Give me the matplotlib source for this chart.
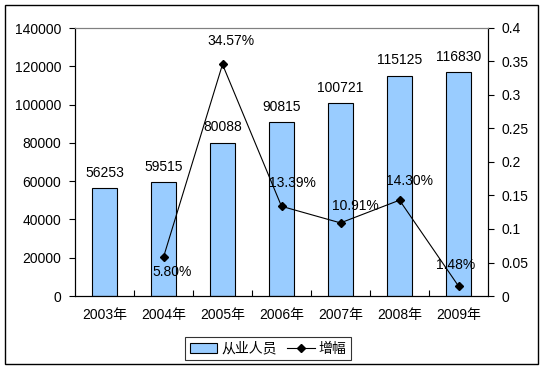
import matplotlib.pyplot as plt
from matplotlib.patches import Rectangle
from matplotlib.ticker import FormatStrFormatter

plt.rcParams['font.family'] = ['Liberation Sans', 'Noto Sans CJK SC']
plt.rcParams['font.size'] = 10

years = ['2003年', '2004年', '2005年', '2006年', '2007年', '2008年', '2009年']
workers = [56253, 59515, 80088, 90815, 100721, 115125, 116830]
growth_idx = [1, 2, 3, 4, 5, 6]
growth = [0.0580, 0.3457, 0.1339, 0.1091, 0.1430, 0.0148]
growth_labels = ['5.80%', '34.57%', '13.39%', '10.91%', '14.30%', '1.48%']
# label offsets in points (dx, dy)
growth_offsets = [(6, -11), (6, 17), (8, 17), (11, 12), (7, 14), (-2, 15)]

fig = plt.figure(figsize=(5.45, 3.7), dpi=100)
ax = fig.add_axes([75 / 545, 1 - 296 / 370, 413 / 545, 268 / 370])

x = list(range(len(years)))
bars = ax.bar(x, workers, width=0.42, color='#99CCFF', edgecolor='black',
              linewidth=0.8, label='从业人员', zorder=2)
for xi, v in zip(x, workers):
    ax.annotate(str(v), (xi, v), xytext=(0, 11), textcoords='offset points',
                ha='center', va='center')

ax.set_xlim(-0.5, len(years) - 0.5)
ax.set_ylim(0, 140000)
ax.set_yticks(range(0, 140001, 20000))
ax.set_xticks(x)
ax.set_xticklabels(years)
ax.set_xticks([i + 0.5 for i in x[:-1]], minor=True)
ax.tick_params(axis='x', which='major', length=0, pad=9)
ax.tick_params(axis='x', which='minor', direction='in', length=4, width=0.8)
ax.tick_params(axis='y', direction='out', length=4, width=0.8, pad=6)

ax2 = ax.twinx()
line, = ax2.plot(growth_idx, growth, color='black', lw=0.8, marker='D',
                 markersize=4, label='增幅', zorder=3)
for xi, v, t, (dx, dy) in zip(growth_idx, growth, growth_labels, growth_offsets):
    ax2.annotate(t, (xi, v), xytext=(dx, dy), textcoords='offset points',
                 ha='center', va='center')
ax2.set_ylim(0, 0.4)
ax2.set_yticks([i * 0.05 for i in range(9)])
ax2.yaxis.set_major_formatter(FormatStrFormatter('%g'))
ax2.tick_params(axis='y', direction='out', length=4, width=0.8, pad=6)

for a in (ax, ax2):
    a.spines['top'].set_color('#808080')
    for s in ('left', 'right', 'bottom'):
        a.spines[s].set_color('black')
        a.spines[s].set_linewidth(0.8)

fig.legend(handles=[bars, line], loc='center', ncol=2,
           bbox_to_anchor=(268 / 545, 1 - 348.5 / 370),
           frameon=True, fancybox=False, edgecolor='black',
           handlelength=2.0, handletextpad=0.3, columnspacing=0.7,
           borderpad=0.3).get_frame().set_linewidth(0.8)

fig.patches.append(Rectangle((5 / 545, 1 - 364 / 370), 533 / 545, 359 / 370,
                             transform=fig.transFigure, fill=False,
                             edgecolor='black', linewidth=1))

fig.savefig('out.png', dpi=100)
